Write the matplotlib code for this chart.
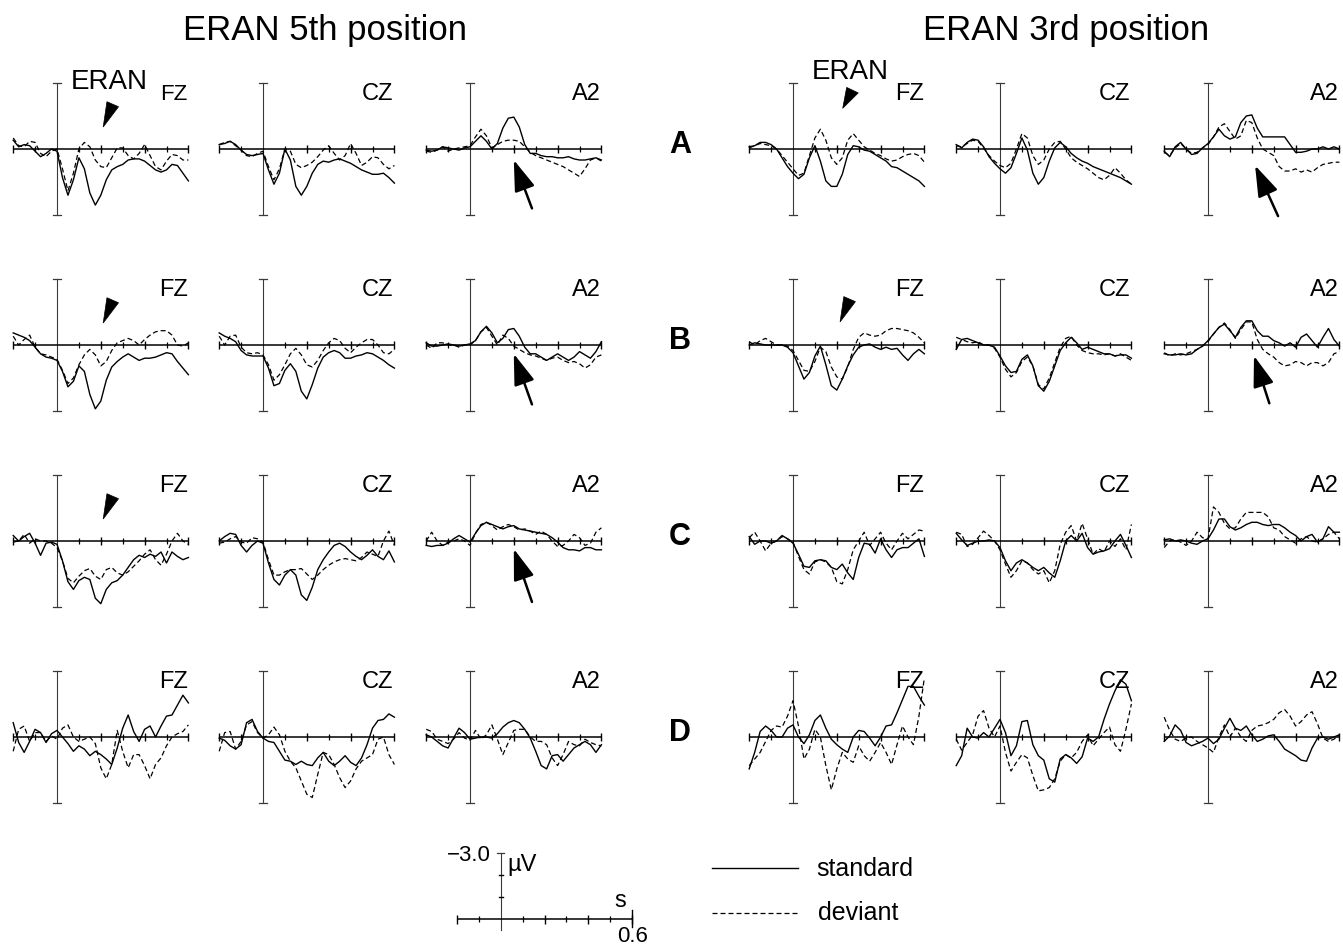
import numpy as np
import matplotlib
matplotlib.use("Agg")
import matplotlib.pyplot as plt
from matplotlib.patches import Polygon

plt.rcParams['font.family'] = ['Liberation Sans', 'DejaVu Sans']

# ---------------- data (µV, negative plotted upward) ----------------
TIME_S = [-0.200, -0.175, -0.150, -0.125, -0.100, -0.075, -0.050, -0.025, 0.000, 0.025, 0.050,
          0.075, 0.100, 0.125, 0.150, 0.175, 0.200, 0.225, 0.250, 0.275, 0.300, 0.325,
          0.350, 0.375, 0.400, 0.425, 0.450, 0.475, 0.500, 0.525, 0.550, 0.575, 0.600]

ROWS = ['A', 'B', 'C', 'D']
POSITIONS = ['5TH', '3RD']
ELECTRODES = ['FZ', 'CZ', 'A2']
TITLES = {'5TH': 'ERAN 5th position', '3RD': 'ERAN 3rd position'}

# ---- row A, 5th position
A_5TH_FZ_STD = [-0.4, -0.1, -0.2, -0.15, 0.1, 0.35, 0.2, 0.0, 0.1, 1.3, 2.1,
                1.4, 0.4, 0.9, 2.0, 2.55, 2.1, 1.4, 0.95, 0.8, 0.7, 0.5,
                0.45, 0.45, 0.55, 0.75, 0.95, 1.05, 0.95, 0.7, 0.75, 1.1, 1.45]
A_5TH_FZ_DEV = [-0.5, -0.15, -0.1, -0.35, -0.3, 0.2, 0.35, 0.1, 0.0, 0.9, 1.9,
                1.1, 0.0, -0.3, -0.1, 0.5, 0.8, 0.85, 0.4, -0.05, -0.05, 0.3,
                0.45, 0.2, -0.2, 0.3, 0.8, 0.95, 0.55, 0.25, 0.3, 0.5, 0.5]
A_5TH_CZ_STD = [-0.2, -0.25, -0.35, -0.2, 0.05, 0.25, 0.3, 0.25, 0.2, 0.95, 1.6,
                1.1, 0.0, 0.5, 1.7, 2.1, 1.7, 1.1, 0.7, 0.55, 0.6, 0.5,
                0.45, 0.55, 0.65, 0.8, 0.95, 1.05, 1.15, 1.15, 1.1, 1.3, 1.55]
A_5TH_CZ_DEV = [-0.2, -0.3, -0.35, -0.15, 0.05, 0.3, 0.35, 0.2, 0.1, 0.8, 1.4,
                0.9, 0.0, 0.1, 0.7, 0.85, 0.75, 0.6, 0.35, 0.05, -0.15, 0.2,
                0.5, 0.3, -0.25, 0.2, 0.75, 0.6, 0.35, 0.4, 0.7, 0.9, 0.75]
A_5TH_A2_STD = [0.05, 0.1, 0.05, -0.1, -0.05, 0.0, 0.05, -0.05, -0.1, -0.35, -0.6,
                -0.35, 0.0, -0.25, -0.95, -1.4, -1.45, -1.0, -0.2, 0.2, 0.2, 0.3,
                0.35, 0.35, 0.4, 0.4, 0.35, 0.45, 0.5, 0.5, 0.45, 0.4, 0.5]
A_5TH_A2_DEV = [0.1, 0.15, 0.05, -0.1, 0.1, 0.0, -0.05, -0.1, -0.15, -0.55, -0.9,
                -0.6, -0.05, -0.2, -0.35, -0.4, -0.4, -0.35, -0.1, 0.15, 0.3, 0.4,
                0.5, 0.6, 0.7, 0.8, 0.95, 1.1, 1.25, 0.9, 0.5, 0.4, 0.55]
# ---- row A, 3rd position
A_3RD_FZ_STD = [-0.1, -0.15, -0.3, -0.3, -0.2, 0.0, 0.4, 0.8, 1.1, 1.35, 1.15,
                0.4, -0.15, 0.55, 1.45, 1.7, 1.7, 1.15, 0.25, -0.15, -0.1, 0.05,
                0.1, 0.25, 0.4, 0.55, 0.8, 0.85, 1.0, 1.15, 1.3, 1.45, 1.7]
A_3RD_FZ_DEV = [-0.05, -0.15, -0.25, -0.2, -0.15, 0.0, 0.3, 0.6, 0.9, 1.2, 1.1,
                0.3, -0.5, -0.9, -0.4, 0.4, 0.7, 0.4, -0.4, -0.7, -0.4, -0.1,
                0.05, 0.2, 0.3, 0.45, 0.55, 0.5, 0.35, 0.25, 0.2, 0.3, 0.6]
A_3RD_CZ_STD = [-0.2, -0.05, -0.3, -0.45, -0.4, -0.1, 0.35, 0.65, 0.9, 1.1, 0.85,
                0.2, -0.5, 0.05, 1.1, 1.6, 1.3, 0.55, -0.05, -0.3, -0.1, 0.2,
                0.4, 0.55, 0.65, 0.8, 0.9, 1.0, 1.1, 1.2, 1.3, 1.45, 1.6]
A_3RD_CZ_DEV = [-0.15, -0.1, -0.25, -0.4, -0.35, -0.05, 0.3, 0.55, 0.75, 0.85, 0.65,
                0.0, -0.7, -0.5, 0.3, 0.7, 0.5, 0.0, -0.3, -0.35, 0.0, 0.4,
                0.6, 0.75, 0.9, 1.1, 1.3, 1.4, 1.2, 0.85, 1.1, 1.4, 1.6]
A_3RD_A2_STD = [0.1, 0.35, -0.1, -0.3, 0.0, 0.25, 0.2, -0.05, -0.25, -0.55, -0.9,
                -0.6, -0.45, -0.55, -1.2, -1.5, -1.55, -0.95, -0.55, -0.55, -0.55, -0.55,
                -0.55, -0.2, 0.15, 0.15, 0.1, 0.0, 0.0, -0.1, 0.0, -0.1, 0.0]
A_3RD_A2_DEV = [0.15, 0.3, -0.05, -0.25, 0.0, 0.2, 0.15, -0.05, -0.2, -0.55, -1.0,
                -1.15, -0.8, -0.45, -0.6, -1.3, -1.2, -0.5, 0.0, 0.15, 0.3, 0.8,
                1.0, 1.0, 0.9, 1.05, 0.95, 1.05, 0.85, 0.7, 0.65, 0.6, 0.6]
# ---- row B, 5th position
B_5TH_FZ_STD = [-0.55, -0.45, -0.35, -0.2, 0.1, 0.4, 0.55, 0.6, 0.7, 1.2, 1.9,
                1.65, 0.95, 1.2, 2.25, 2.9, 2.55, 1.6, 1.0, 0.75, 0.55, 0.4,
                0.55, 0.7, 0.6, 0.6, 0.55, 0.45, 0.35, 0.4, 0.75, 1.05, 1.35]
B_5TH_FZ_DEV = [-0.4, 0.0, -0.25, -0.45, 0.1, 0.4, 0.45, 0.55, 0.65, 1.15, 1.75,
                1.5, 0.9, 0.45, 0.2, 0.45, 0.95, 0.75, 0.25, -0.1, -0.2, -0.3,
                -0.2, 0.0, -0.25, -0.45, -0.6, -0.65, -0.65, -0.45, 0.0, 0.05, -0.1]
B_5TH_CZ_STD = [-0.55, -0.4, -0.3, -0.15, 0.25, 0.45, 0.5, 0.5, 0.5, 1.05, 1.85,
                1.75, 1.15, 0.85, 1.2, 2.1, 2.45, 1.8, 1.05, 0.55, 0.35, 0.25,
                0.35, 0.6, 0.6, 0.5, 0.45, 0.35, 0.4, 0.55, 0.7, 0.9, 1.05]
B_5TH_CZ_DEV = [-0.4, 0.0, -0.4, -0.45, 0.1, 0.35, 0.4, 0.35, 0.45, 0.9, 1.6,
                1.35, 0.9, 0.4, 0.15, 0.45, 0.9, 1.0, 0.7, 0.25, -0.1, -0.3,
                -0.2, 0.15, 0.35, 0.1, -0.1, -0.25, -0.25, 0.0, 0.35, 0.4, 0.2]
B_5TH_A2_STD = [-0.1, 0.05, 0.05, 0.0, -0.05, 0.0, 0.05, 0.0, -0.05, -0.2, -0.6,
                -0.85, -0.55, -0.1, -0.3, -0.7, -0.75, -0.4, 0.1, 0.4, 0.4, 0.55,
                0.7, 0.55, 0.4, 0.55, 0.7, 0.55, 0.3, 0.45, 0.6, 0.3, -0.15]
B_5TH_A2_DEV = [0.0, 0.15, -0.1, -0.1, 0.0, 0.0, 0.1, 0.0, 0.0, -0.2, -0.6,
                -0.8, -0.4, 0.0, -0.45, -0.3, 0.05, 0.2, 0.35, 0.45, 0.5, 0.6,
                0.7, 0.6, 0.55, 0.7, 0.8, 0.75, 0.85, 1.05, 0.9, 0.55, 0.45]
# ---- row B, 3rd position
B_3RD_FZ_STD = [0.0, -0.1, -0.05, 0.0, 0.0, 0.0, 0.0, 0.1, 0.35, 0.95, 1.55,
                1.25, 0.5, 0.05, 0.9, 1.85, 2.05, 1.55, 0.95, 0.45, 0.1, 0.0,
                -0.05, 0.1, 0.2, 0.1, 0.2, 0.15, 0.45, 0.7, 0.4, 0.2, 0.4]
B_3RD_FZ_DEV = [-0.15, 0.0, -0.2, -0.3, -0.15, 0.0, 0.0, 0.05, 0.25, 0.7, 1.15,
                1.2, 0.75, 0.1, 0.3, 1.0, 1.45, 1.55, 1.0, 0.2, -0.35, -0.55,
                -0.45, -0.4, -0.45, -0.65, -0.75, -0.75, -0.7, -0.65, -0.55, -0.35, -0.1]
B_3RD_CZ_STD = [0.2, -0.25, -0.3, -0.2, -0.1, 0.0, 0.0, 0.1, 0.5, 0.95, 1.25,
                1.2, 0.65, 0.45, 0.95, 1.85, 2.1, 1.65, 0.95, 0.25, -0.1, -0.35,
                -0.1, 0.2, 0.1, 0.2, 0.3, 0.4, 0.4, 0.5, 0.45, 0.45, 0.6]
B_3RD_CZ_DEV = [-0.35, -0.25, -0.15, -0.1, -0.15, 0.0, 0.0, 0.15, 0.55, 1.1, 1.45,
                1.25, 0.75, 0.55, 0.95, 1.8, 2.0, 1.5, 0.8, 0.1, -0.3, -0.4,
                0.0, 0.25, 0.35, 0.4, 0.4, 0.45, 0.4, 0.5, 0.4, 0.55, 0.7]
B_3RD_A2_STD = [0.4, 0.45, 0.45, 0.4, 0.45, 0.4, 0.2, 0.05, -0.2, -0.5, -0.8,
                -0.95, -0.65, -0.35, -0.8, -1.1, -1.1, -0.65, -0.4, -0.4, -0.2, -0.1,
                0.05, -0.1, 0.1, -0.35, -0.5, -0.2, 0.1, -0.35, -0.75, -0.25, 0.05]
B_3RD_A2_DEV = [0.35, 0.5, 0.4, 0.45, 0.4, 0.3, 0.2, 0.05, -0.15, -0.5, -0.8,
                -1.0, -0.7, -0.3, -0.7, -1.05, -1.05, -0.25, 0.2, 0.4, 0.55, 0.8,
                0.95, 0.9, 0.75, 0.8, 0.95, 0.8, 0.8, 0.95, 0.8, 0.4, 0.3]
# ---- row C, 5th position
C_5TH_FZ_STD = [-0.25, 0.0, -0.2, -0.35, 0.1, 0.65, 0.1, 0.05, 0.15, 0.9, 1.85,
                2.2, 1.8, 1.65, 1.75, 2.6, 2.85, 2.2, 1.9, 1.8, 1.55, 1.2,
                0.85, 0.65, 0.75, 0.6, 0.7, 0.5, 1.0, 0.5, 0.7, 0.85, 0.75]
C_5TH_FZ_DEV = [0.05, 0.0, -0.3, 0.1, -0.1, 0.0, 0.0, 0.1, 0.3, 0.9, 1.7,
                1.9, 1.6, 1.35, 1.25, 1.6, 1.75, 1.3, 1.2, 1.45, 1.55, 1.4,
                1.15, 0.9, 0.6, 0.4, 0.85, 1.1, 0.6, 0.0, -0.35, 0.0, 0.15]
C_5TH_CZ_STD = [0.0, -0.2, -0.35, -0.3, 0.2, 0.5, 0.2, 0.0, 0.1, 1.0, 1.75,
                2.0, 1.55, 1.3, 1.55, 2.45, 2.7, 2.1, 1.3, 0.85, 0.5, 0.2,
                0.1, 0.25, 0.5, 0.7, 0.85, 0.65, 0.4, 0.7, 0.85, 0.45, 0.95]
C_5TH_CZ_DEV = [0.1, 0.05, -0.1, -0.2, 0.05, 0.1, -0.15, -0.1, 0.05, 0.85, 1.55,
                1.55, 1.4, 1.3, 1.3, 1.25, 1.5, 1.75, 1.55, 1.3, 1.1, 0.95,
                0.85, 0.8, 0.85, 0.9, 0.75, 0.5, 0.6, 0.7, 0.0, -0.45, 0.2]
C_5TH_A2_STD = [0.2, 0.25, 0.2, 0.2, 0.1, -0.1, -0.25, -0.1, 0.05, -0.35, -0.7,
                -0.85, -0.75, -0.65, -0.55, -0.65, -0.7, -0.55, -0.5, -0.45, -0.4, -0.35,
                -0.3, -0.15, 0.05, 0.3, 0.4, 0.4, 0.45, 0.3, 0.3, 0.4, 0.4]
C_5TH_A2_DEV = [0.0, -0.4, 0.0, 0.2, 0.05, 0.0, -0.1, 0.0, 0.2, -0.35, -0.75,
                -0.85, -0.7, -0.5, -0.65, -0.75, -0.65, -0.5, -0.55, -0.45, -0.3, -0.45,
                -0.3, 0.0, 0.25, 0.2, 0.0, -0.3, -0.15, 0.2, 0.1, -0.4, -0.6]
# ---- row C, 3rd position
C_3RD_FZ_STD = [-0.2, 0.15, 0.0, 0.0, 0.1, 0.0, -0.25, -0.1, 0.1, 0.6, 1.15,
                1.2, 0.9, 0.85, 0.9, 1.2, 1.3, 1.05, 1.45, 1.75, 0.75, 0.1,
                0.15, 0.55, -0.1, 0.4, 0.75, 0.4, 0.3, 0.3, 0.1, -0.1, 0.7]
C_3RD_FZ_DEV = [-0.15, -0.4, 0.0, 0.45, 0.1, 0.0, -0.2, -0.1, 0.05, 0.7, 1.3,
                1.5, 0.95, 0.85, 0.95, 1.2, 1.85, 1.95, 1.3, 0.4, 0.0, -0.4,
                0.2, -0.1, -0.4, 0.1, 0.4, 0.0, -0.35, -0.1, -0.3, -0.5, -0.45]
C_3RD_CZ_STD = [-0.35, -0.05, 0.2, 0.1, 0.0, 0.0, -0.05, 0.0, 0.3, 0.9, 1.35,
                1.0, 0.85, 1.0, 1.2, 1.35, 1.2, 1.45, 1.65, 0.9, 0.0, -0.25,
                0.0, -0.35, 0.3, 0.6, 0.5, 0.45, 0.35, 0.0, -0.3, 0.2, 0.75]
C_3RD_CZ_DEV = [-0.4, -0.3, 0.25, 0.15, -0.15, -0.45, -0.25, 0.0, 0.4, 1.05, 1.65,
                1.35, 0.9, 1.0, 1.3, 1.5, 1.35, 1.9, 1.35, 0.15, -0.4, -0.7,
                0.0, -0.8, -0.1, 0.6, 0.35, 0.5, 0.0, 0.25, -0.1, 0.4, -0.75]
C_3RD_A2_STD = [-0.05, -0.1, 0.0, -0.05, 0.0, 0.1, 0.15, 0.0, -0.1, -0.5, -1.0,
                -1.0, -0.65, -0.5, -0.6, -0.75, -0.85, -0.85, -0.75, -0.7, -0.75, -0.75,
                -0.6, -0.4, -0.25, 0.0, -0.2, -0.3, 0.05, -0.1, -0.65, -0.4, -0.4]
C_3RD_A2_DEV = [0.3, 0.0, -0.05, 0.05, 0.2, 0.0, -0.4, -0.15, -0.1, -1.55, -1.3,
                -0.8, -0.55, -0.6, -1.0, -1.3, -1.3, -1.3, -1.3, -1.1, -0.6, -0.5,
                -0.2, -0.05, 0.1, -0.1, -0.2, 0.0, 0.05, -0.1, -0.3, -0.4, -0.1]
# ---- row D, 5th position
D_5TH_FZ_STD = [-0.65, 0.25, 0.7, 0.2, -0.35, -0.2, 0.25, -0.15, -0.3, 0.0, 0.3,
                0.65, 0.4, 0.55, 0.85, 0.65, 0.8, 1.0, 1.25, 0.5, -0.4, -1.0,
                -0.25, 0.2, -0.35, -0.5, 0.0, -0.5, -0.95, -1.0, -1.45, -1.9, -1.55]
D_5TH_FZ_DEV = [0.65, -0.35, -0.5, 0.2, -0.2, -0.2, 0.2, -0.05, 0.1, -0.4, -0.55,
                0.0, 0.2, 0.1, 0.0, 0.3, 1.4, 1.9, 1.25, -0.3, 0.65, 1.4,
                0.8, 0.8, 1.3, 1.9, 1.25, 0.95, 0.4, 0.0, -0.15, -0.25, -0.55]
D_5TH_CZ_STD = [0.05, 0.15, 0.4, 0.55, 0.35, -0.65, -0.8, -0.25, 0.05, 0.2, 0.25,
                0.65, 1.05, 1.1, 1.25, 1.1, 1.25, 1.3, 0.95, 0.7, 1.1, 1.3,
                1.1, 0.85, 1.15, 1.3, 0.95, 0.35, -0.4, -0.75, -0.8, -1.05, -0.9]
D_5TH_CZ_DEV = [0.65, -0.2, -0.25, 0.55, 0.2, -0.55, -0.7, -0.2, 0.05, -0.1, -0.45,
                -0.1, 0.65, 1.1, 1.4, 2.0, 2.6, 2.75, 1.7, 0.7, 0.8, 1.25,
                1.85, 2.3, 2.0, 1.45, 1.1, 0.95, 0.8, 0.1, 0.0, 0.8, 1.25]
D_5TH_A2_STD = [-0.1, 0.0, 0.2, 0.4, 0.5, 0.05, -0.4, -0.2, 0.1, 0.05, 0.0,
                0.0, 0.05, -0.15, -0.45, -0.65, -0.75, -0.65, -0.35, 0.05, 0.65, 1.3,
                1.45, 0.85, 0.8, 1.1, 0.8, 0.5, 0.35, 0.2, 0.35, 0.7, 0.35]
D_5TH_A2_DEV = [-0.35, -0.25, 0.1, 0.2, 0.3, 0.1, -0.2, 0.05, 0.15, -0.3, 0.1,
                -0.1, -0.55, 0.1, 0.8, 0.25, -0.3, -0.35, -0.35, 0.0, 0.2, 0.2,
                0.35, 0.95, 1.3, 0.8, 0.2, 0.35, 0.4, 0.1, 0.25, 0.35, 0.4]
# ---- row D, 3rd position
D_3RD_FZ_STD = [1.45, 0.7, -0.25, -0.5, -0.3, 0.0, 0.0, -0.4, -0.55, 0.0, 0.3,
                -0.1, -0.75, -1.0, -0.4, 0.1, 0.35, 0.55, 0.7, 0.0, -0.3, -0.25,
                0.05, 0.4, 0.0, -0.5, -0.55, -1.1, -1.7, -2.3, -2.3, -1.85, -1.45]
D_3RD_FZ_DEV = [1.3, 1.0, 0.7, 0.2, -0.3, -0.5, -0.45, -0.95, -1.65, -0.5, 1.0,
                0.55, -0.35, 0.0, 1.3, 2.4, 1.45, 0.7, 1.0, 1.15, 0.4, 0.85,
                1.1, 0.7, 0.25, 0.7, 1.25, 0.35, -0.5, 0.0, 0.35, -0.95, -2.7]
D_3RD_CZ_STD = [1.3, 0.85, -0.4, 0.0, 0.05, -0.2, 0.0, -0.4, -0.8, -0.2, 0.85,
                0.4, -0.7, -0.75, 0.35, 0.85, 1.05, 1.9, 2.05, 1.0, 0.8, 0.95,
                1.2, 0.9, 0.05, 0.2, 0.0, -0.8, -1.5, -2.1, -2.6, -2.4, -1.65]
D_3RD_CZ_DEV = [0.1, 0.6, 0.25, -0.1, -0.95, -1.2, -0.4, 0.0, -0.5, 0.7, 1.55,
                1.15, 0.8, 0.95, 1.75, 2.45, 2.4, 2.3, 1.9, 1.1, 0.8, 0.95,
                0.7, 0.2, -0.1, 0.4, 0.1, -0.2, -0.45, 0.35, 0.65, -0.35, -1.5]
D_3RD_A2_STD = [0.2, -0.05, -0.55, -0.3, 0.25, 0.4, 0.3, 0.2, 0.05, 0.3, 0.1,
                -0.4, -0.85, -0.4, -0.3, -0.5, -0.1, 0.2, 0.1, -0.05, -0.1, 0.2,
                0.55, 0.7, 0.85, 1.05, 1.1, 0.5, 0.05, 0.0, 0.1, 0.0, -0.1]
D_3RD_A2_DEV = [-0.9, -0.3, 0.1, 0.2, 0.05, 0.0, 0.2, 0.35, 0.5, 0.7, 0.0,
                -0.55, 0.0, -0.4, 0.0, 0.2, -0.3, -0.5, -0.55, -0.65, -0.8, -1.1,
                -1.25, -0.95, -0.5, -0.7, -1.0, -1.15, -0.6, 0.05, 0.2, 0.1, -0.1]

# ---------------- layout (pixels) ----------------
W, H = 1343, 950
PX_PER_S = 219.0
PX_PER_UV = 22.0
AXIS_X = {('5TH', 'FZ'): 57, ('5TH', 'CZ'): 263, ('5TH', 'A2'): 470,
          ('3RD', 'FZ'): 793, ('3RD', 'CZ'): 1000, ('3RD', 'A2'): 1208}
ROW_BASE = {'A': 149, 'B': 345, 'C': 541, 'D': 737}

fig = plt.figure(figsize=(W / 100, H / 100), dpi=100)
fig.patch.set_facecolor('white')

t = np.array(TIME_S)


def make_axes(xv, base, ymin=-3.0, ymax=3.0):
    left = xv - 0.2 * PX_PER_S
    top = base + ymin * PX_PER_UV
    width = 0.8 * PX_PER_S
    height = (ymax - ymin) * PX_PER_UV
    ax = fig.add_axes([left / W, 1 - (top + height) / H, width / W, height / H])
    ax.set_xlim(-0.2, 0.6)
    ax.set_ylim(ymax, ymin)
    ax.axis('off')
    return ax


def draw_frame(ax, vtop=-3.0, vbot=3.0, bottom_cap=True):
    k = dict(color='black', clip_on=False, solid_capstyle='butt')
    ax.plot([0, 0], [vtop, vbot], color='#3a3a3a', lw=0.8, clip_on=False)
    ax.plot([-0.017, 0.017], [vtop, vtop], color='#3a3a3a', lw=0.9, clip_on=False)
    if bottom_cap:
        ax.plot([-0.017, 0.017], [vbot, vbot], color='#3a3a3a', lw=0.9, clip_on=False)
    ax.plot([-0.2, 0.6], [0, 0], lw=1.1, **k)
    for tk in [-0.1, 0.1, 0.3, 0.5]:
        ax.plot([tk, tk], [-0.13, 0.13], lw=0.9, **k)
    for tk in [0.2, 0.4]:
        ax.plot([tk, tk], [-0.2, 0.2], lw=1.0, **k)
    for tk in [-0.2, 0.6]:
        ax.plot([tk, tk], [-0.2, 0.2], lw=1.0, **k)


panels = {}
for pos in POSITIONS:
    for row in ROWS:
        for el in ELECTRODES:
            ax = make_axes(AXIS_X[(pos, el)], ROW_BASE[row])
            panels[(row, pos, el)] = ax
            draw_frame(ax)
            std = globals()[f'{row}_{pos}_{el}_STD']
            dev = globals()[f'{row}_{pos}_{el}_DEV']
            ax.plot(t, dev, color='black', lw=0.9, linestyle=(0, (4, 2.4)),
                    clip_on=False, zorder=3)
            ax.plot(t, std, color='black', lw=1.0, clip_on=False, zorder=4,
                    solid_joinstyle='round')
            small = (row == 'A' and pos == '5TH' and el == 'FZ')
            ax.text(0.597, -2.23, el, ha='right', va='baseline',
                    fontsize=16 if small else 17)

# ERAN annotations
panels[('A', '5TH', 'FZ')].text(0.065, -2.72, 'ERAN', fontsize=20,
                                ha='left', va='baseline')
panels[('A', '3RD', 'FZ')].text(0.087, -3.18, 'ERAN', fontsize=20,
                                ha='left', va='baseline')

TRIANGLES = {
    ('A', '5TH'): [(0.211, -1.0), (0.228, -2.15), (0.281, -1.92)],
    ('B', '5TH'): [(0.211, -1.0), (0.228, -2.15), (0.281, -1.92)],
    ('C', '5TH'): [(0.211, -1.0), (0.228, -2.15), (0.281, -1.92)],
    ('A', '3RD'): [(0.227, -1.85), (0.245, -2.8), (0.298, -2.55)],
    ('B', '3RD'): [(0.215, -1.05), (0.232, -2.2), (0.285, -1.97)],
}
for (row, pos), verts in TRIANGLES.items():
    ax = panels[(row, pos, 'FZ')]
    ax.add_patch(Polygon(verts, closed=True, facecolor='black',
                         edgecolor='black', lw=0.5, clip_on=False, zorder=5))

ARROWS = {
    ('A', '5TH'): ((0.200, 0.50), (0.283, 2.70)),
    ('B', '5TH'): ((0.200, 0.40), (0.283, 2.70)),
    ('C', '5TH'): ((0.200, 0.36), (0.283, 2.77)),
    ('A', '3RD'): ((0.215, 0.75), (0.320, 3.05)),
    ('B', '3RD'): ((0.210, 0.49), (0.280, 2.65)),
}
for (row, pos), (tip, tail) in ARROWS.items():
    ax = panels[(row, pos, 'A2')]
    ax.annotate('', xy=tip, xytext=tail, annotation_clip=False,
                arrowprops=dict(arrowstyle='-|>,head_length=0.95,head_width=0.32',
                                mutation_scale=20, lw=1.8, color='black',
                                shrinkA=0, shrinkB=0), zorder=6)

# titles and row letters
fig.text(325 / W, 1 - 40 / H, TITLES['5TH'], fontsize=25, ha='center', va='baseline')
fig.text(1066 / W, 1 - 40 / H, TITLES['3RD'], fontsize=25, ha='center', va='baseline')
for row in ROWS:
    fig.text(680 / W, 1 - (ROW_BASE[row] + 4) / H, row, fontsize=22,
             fontweight='bold', ha='center', va='baseline')

# scale bar
sb = make_axes(500.7, 919.3, ymin=-3.0, ymax=0.6)
draw_frame(sb, vtop=-3.0, vbot=0.5, bottom_cap=False)
sb.plot([0.6, 0.6], [-0.42, 0.35], color='black', lw=1.0, clip_on=False)
for v in [-1, -2]:
    sb.plot([-0.009, 0.009], [v, v], color='black', lw=1.0, clip_on=False)
sb.text(-0.046, -2.66, '\u22123.0', ha='right', va='baseline', fontsize=16)
sb.text(0.03, -2.2, '\u00b5V', ha='left', va='baseline', fontsize=17)
sb.text(0.546, -0.57, 's', ha='center', va='baseline', fontsize=17)
sb.text(0.60, 1.02, '0.6', ha='center', va='baseline', fontsize=16)

# legend (drawn as a key in pixel space)
key = fig.add_axes([0, 0, 1, 1])
key.set_xlim(0, W)
key.set_ylim(H, 0)
key.axis('off')
key.plot([712, 798], [868, 868], color='black', lw=1.0)
key.plot([712, 798], [913, 913], color='black', lw=0.9, linestyle=(0, (4, 2.4)))
key.text(816, 876, 'standard', fontsize=18, ha='left', va='baseline')
key.text(818, 920, 'deviant', fontsize=18, ha='left', va='baseline')

fig.savefig('out.png', dpi=100, facecolor='white')
